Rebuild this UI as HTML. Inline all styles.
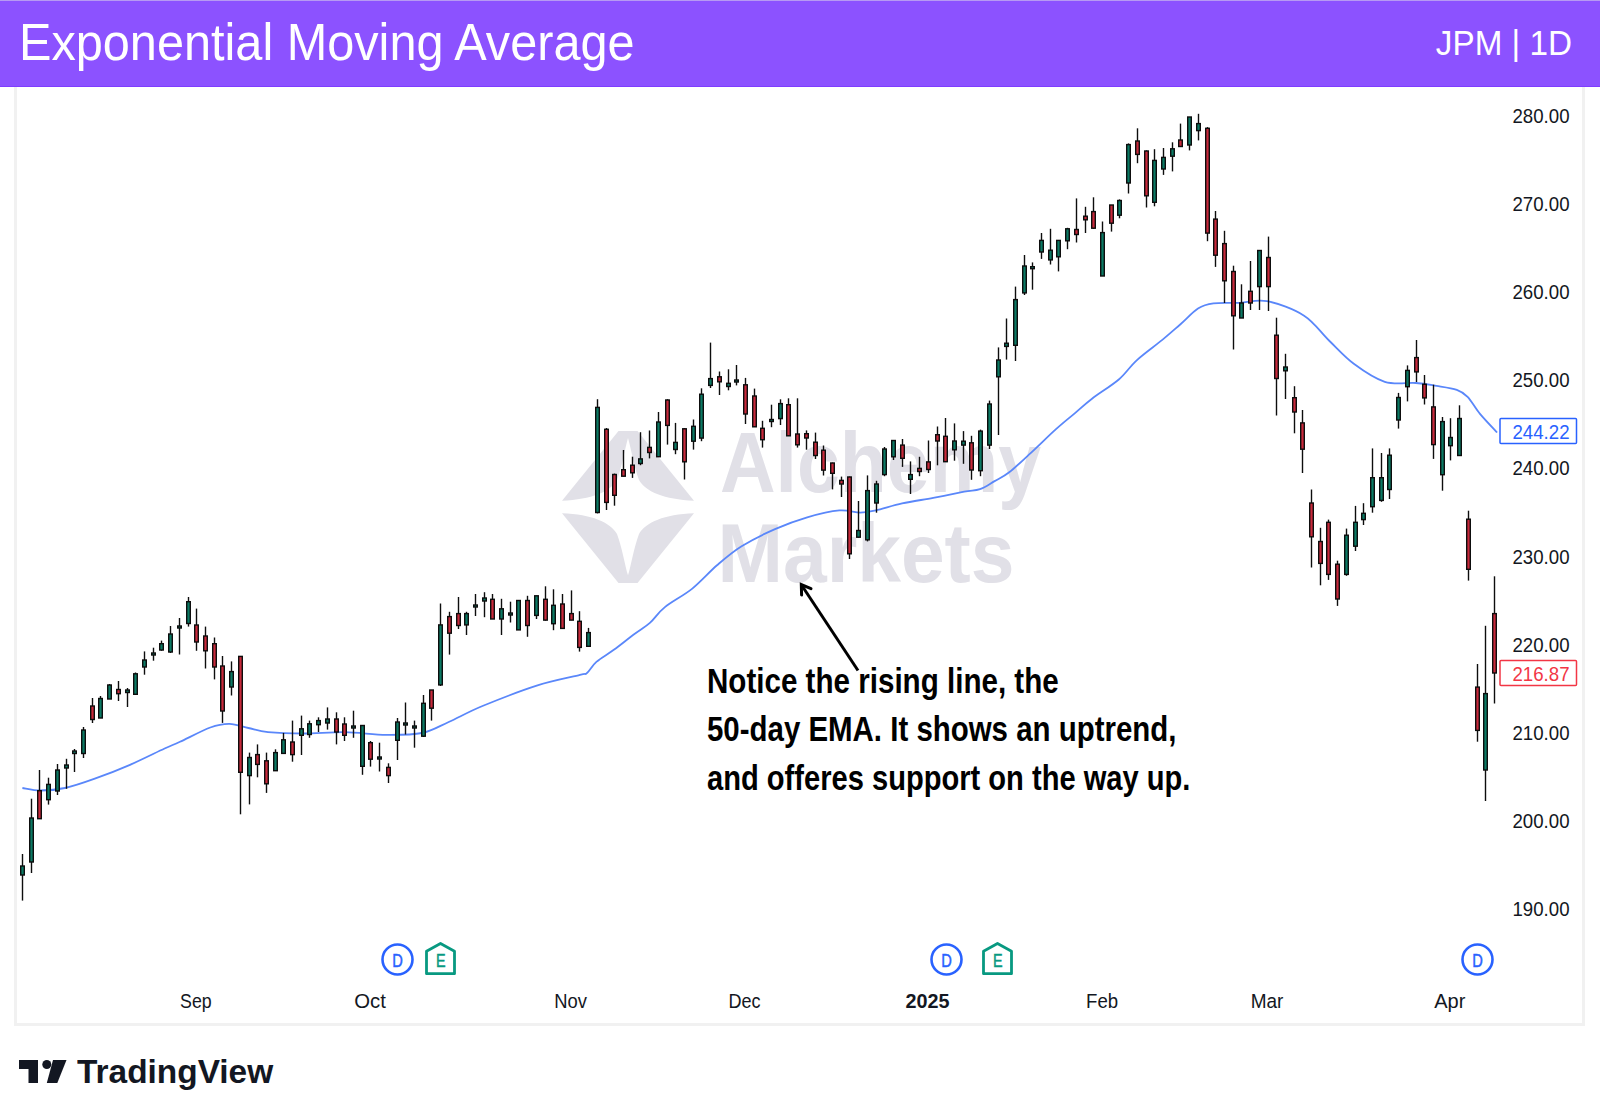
<!DOCTYPE html>
<html><head><meta charset="utf-8">
<style>
html,body{margin:0;padding:0;background:#fff;}
body{width:1600px;height:1095px;overflow:hidden;position:relative;font-family:"Liberation Sans",sans-serif;}
#hdr{position:absolute;left:0;top:0;width:1600px;height:87px;background:#8c52ff;}
#hdr .top{position:absolute;left:0;top:0;width:1600px;height:1px;background:#b79af3;}
#hdr .bot{position:absolute;left:0;top:86px;width:1600px;height:1px;background:#7e3dff;}
#title{position:absolute;left:19.2px;top:11.5px;color:#fff;font-size:51.8px;line-height:60px;white-space:nowrap;transform:scaleX(0.939);transform-origin:0 0;}
#sym{position:absolute;right:28px;top:20.5px;color:#fff;font-size:34.7px;line-height:44px;white-space:nowrap;transform:scaleX(0.959);transform-origin:100% 0;}
.nl{position:absolute;left:706.5px;color:#000;font-weight:bold;font-size:35.3px;line-height:40px;white-space:nowrap;transform-origin:0 0;}
#tv{position:absolute;left:77px;top:1051.5px;color:#131722;font-weight:bold;font-size:32.5px;line-height:40px;white-space:nowrap;transform:scaleX(1.028);transform-origin:0 0;}
svg{position:absolute;left:0;top:0;}
</style></head><body>
<svg width="1600" height="1095" viewBox="0 0 1600 1095">
<rect x="14" y="87" width="3" height="939" fill="#f1f1f1"/>
<rect x="1582" y="87" width="3" height="939" fill="#f1f1f1"/>
<rect x="14" y="1023" width="1571" height="3" fill="#f1f1f1"/>
<g fill="#e1e0e7">
<path d="M618.5,431 L637.5,431 L694,500.7 C664,499.4 646,492 639,480 C634,467 631,448 628,438 C625,448 622,467 617,480 C610,492 592,499.4 562,500.7 Z"/>
<path d="M562,513.2 C592,514.5 610,522 617,534 C622,547 625,566 628,575.3 C631,566 634,547 639,534 C646,522 664,514.5 694,513.2 L637.5,583 L618.5,583 Z"/>
</g>
<g fill="#e1e0e7" font-family="Liberation Sans, sans-serif" font-weight="bold">
<text x="720" y="492.3" font-size="84.5" textLength="321" lengthAdjust="spacingAndGlyphs">Alchemy</text>
<text x="717.5" y="582" font-size="83.5" textLength="297" lengthAdjust="spacingAndGlyphs">Markets</text>
</g>
<path d="M22.4,788.0 C25.4,788.4 33.3,790.5 40.4,790.5 C47.5,790.5 55.9,790.0 65.0,788.0 C74.1,786.0 84.0,782.6 94.8,778.7 C105.6,774.8 118.4,769.8 130.0,764.8 C141.6,759.8 156.3,752.3 164.6,748.5 C172.9,744.7 172.4,745.3 180.0,741.8 C187.6,738.3 202.1,730.5 210.3,727.5 C218.6,724.5 223.2,723.8 229.5,723.9 C235.8,724.0 242.0,726.6 248.4,728.0 C254.8,729.4 258.8,731.2 268.0,732.1 C277.2,733.0 291.0,733.5 303.8,733.5 C316.6,733.5 331.2,731.9 345.0,732.1 C358.8,732.3 373.5,734.8 386.3,734.9 C399.1,735.0 411.6,735.1 422.0,733.0 C432.4,730.9 438.6,726.5 448.7,722.0 C458.8,717.5 467.7,712.1 482.5,706.0 C497.3,699.9 521.2,690.6 537.5,685.4 C553.8,680.2 571.8,677.0 580.0,674.9 C588.2,672.8 584.3,675.2 587.0,673.0 C589.7,670.8 591.9,665.8 596.4,661.9 C600.9,658.0 607.8,654.3 614.2,649.6 C620.6,644.9 628.8,638.2 634.8,633.8 C640.8,629.3 644.9,627.3 649.9,622.9 C654.9,618.5 657.8,612.8 664.9,607.1 C672.0,601.4 683.6,595.6 692.3,588.6 C701.0,581.6 708.8,572.4 717.0,565.3 C725.2,558.2 731.9,552.2 741.6,546.2 C751.3,540.2 764.1,533.9 775.0,529.1 C785.9,524.3 796.5,520.4 807.2,517.3 C817.9,514.2 830.6,511.2 839.4,510.4 C848.2,509.6 854.2,512.7 860.2,512.7 C866.2,512.7 868.7,511.9 875.7,510.3 C882.7,508.8 892.5,505.5 902.1,503.4 C911.7,501.3 922.9,499.8 933.2,497.9 C943.6,495.9 956.4,493.2 964.2,491.7 C972.0,490.2 974.9,490.9 980.0,489.1 C985.1,487.3 989.7,483.9 994.6,481.1 C999.5,478.3 1003.1,477.1 1009.2,472.3 C1015.3,467.6 1023.4,459.8 1031.2,452.6 C1039.0,445.4 1048.7,435.8 1056.0,429.2 C1063.3,422.6 1069.0,418.2 1075.0,413.1 C1081.0,408.0 1084.7,404.3 1092.0,398.7 C1099.3,393.1 1111.3,385.9 1118.8,379.5 C1126.2,373.1 1129.5,366.9 1136.7,360.3 C1144.0,353.7 1155.0,345.9 1162.3,339.9 C1169.5,333.9 1174.2,329.7 1180.2,324.5 C1186.2,319.3 1192.5,312.0 1198.0,308.5 C1203.5,305.0 1206.4,304.3 1213.4,303.4 C1220.4,302.4 1231.1,303.2 1240.0,302.8 C1248.9,302.4 1256.2,299.0 1266.9,301.1 C1277.6,303.2 1293.8,309.1 1304.1,315.7 C1314.4,322.3 1320.7,332.5 1329.0,340.5 C1337.3,348.5 1344.5,356.9 1353.8,363.8 C1363.1,370.7 1374.4,378.6 1384.8,381.8 C1395.2,385.0 1407.3,382.3 1415.9,383.0 C1424.5,383.7 1429.8,384.8 1436.6,385.9 C1443.4,387.0 1451.6,388.0 1456.8,389.8 C1462.0,391.6 1463.7,392.8 1467.6,396.8 C1471.5,400.8 1475.1,407.9 1480.0,413.9 C1484.9,419.8 1494.2,429.4 1497.1,432.5" fill="none" stroke="#5a87fa" stroke-width="1.8" stroke-linejoin="round"/>
<g stroke="#0d0d0d" stroke-width="1.4">
<line x1="22.5" y1="854.0" x2="22.5" y2="900.6"/>
<rect x="20.7" y="866.0" width="3.6" height="9.0" fill="#0b7a64"/>
<line x1="31.5" y1="798.7" x2="31.5" y2="873.0"/>
<rect x="29.7" y="818.0" width="3.6" height="44.0" fill="#0b7a64"/>
<line x1="39.5" y1="770.0" x2="39.5" y2="818.7"/>
<rect x="37.7" y="790.7" width="3.6" height="28.0" fill="#c9293b"/>
<line x1="48.5" y1="777.7" x2="48.5" y2="804.6"/>
<rect x="46.7" y="784.4" width="3.6" height="15.3" fill="#0b7a64"/>
<line x1="57.5" y1="764.0" x2="57.5" y2="795.0"/>
<rect x="55.7" y="770.0" width="3.6" height="21.0" fill="#0b7a64"/>
<line x1="66.5" y1="758.8" x2="66.5" y2="788.8"/>
<rect x="64.7" y="765.0" width="3.6" height="3.0" fill="#0b7a64"/>
<line x1="74.5" y1="749.0" x2="74.5" y2="772.0"/>
<rect x="72.7" y="751.0" width="3.6" height="2.5" fill="#0b7a64"/>
<line x1="83.5" y1="727.0" x2="83.5" y2="758.0"/>
<rect x="81.7" y="730.0" width="3.6" height="23.5" fill="#0b7a64"/>
<line x1="92.5" y1="698.0" x2="92.5" y2="723.0"/>
<rect x="90.7" y="706.0" width="3.6" height="13.5" fill="#c9293b"/>
<line x1="100.5" y1="696.0" x2="100.5" y2="718.0"/>
<rect x="98.7" y="698.5" width="3.6" height="19.5" fill="#0b7a64"/>
<line x1="109.5" y1="684.0" x2="109.5" y2="699.0"/>
<rect x="107.7" y="685.0" width="3.6" height="14.0" fill="#0b7a64"/>
<line x1="118.5" y1="681.0" x2="118.5" y2="701.0"/>
<rect x="116.7" y="689.5" width="3.6" height="4.2" fill="#c9293b"/>
<line x1="127.5" y1="688.0" x2="127.5" y2="707.0"/>
<rect x="125.7" y="690.0" width="3.6" height="2.5" fill="#0b7a64"/>
<line x1="135.5" y1="672.5" x2="135.5" y2="694.3"/>
<rect x="133.7" y="673.8" width="3.6" height="20.5" fill="#0b7a64"/>
<line x1="144.5" y1="651.4" x2="144.5" y2="674.7"/>
<rect x="142.7" y="660.0" width="3.6" height="7.0" fill="#0b7a64"/>
<line x1="153.5" y1="647.7" x2="153.5" y2="660.7"/>
<rect x="151.7" y="653.0" width="3.6" height="2.0" fill="#0b7a64"/>
<line x1="161.5" y1="640.6" x2="161.5" y2="650.8"/>
<rect x="159.7" y="643.7" width="3.6" height="6.3" fill="#0b7a64"/>
<line x1="170.5" y1="626.0" x2="170.5" y2="653.0"/>
<rect x="168.7" y="634.0" width="3.6" height="18.0" fill="#0b7a64"/>
<line x1="179.5" y1="618.0" x2="179.5" y2="654.5"/>
<rect x="177.7" y="626.0" width="3.6" height="2.0" fill="#0b7a64"/>
<line x1="188.5" y1="597.0" x2="188.5" y2="626.6"/>
<rect x="186.7" y="601.7" width="3.6" height="21.8" fill="#0b7a64"/>
<line x1="196.5" y1="608.6" x2="196.5" y2="650.8"/>
<rect x="194.7" y="625.0" width="3.6" height="17.0" fill="#c9293b"/>
<line x1="205.5" y1="626.6" x2="205.5" y2="668.5"/>
<rect x="203.7" y="636.0" width="3.6" height="14.8" fill="#c9293b"/>
<line x1="214.5" y1="637.5" x2="214.5" y2="679.4"/>
<rect x="212.7" y="643.7" width="3.6" height="23.3" fill="#c9293b"/>
<line x1="222.5" y1="656.0" x2="222.5" y2="722.9"/>
<rect x="220.7" y="666.0" width="3.6" height="45.0" fill="#c9293b"/>
<line x1="231.5" y1="661.4" x2="231.5" y2="695.5"/>
<rect x="229.7" y="671.6" width="3.6" height="15.4" fill="#0b7a64"/>
<line x1="240.5" y1="656.4" x2="240.5" y2="814.3"/>
<rect x="238.7" y="656.4" width="3.6" height="115.9" fill="#c9293b"/>
<line x1="249.5" y1="752.6" x2="249.5" y2="804.4"/>
<rect x="247.7" y="757.5" width="3.6" height="18.1" fill="#0b7a64"/>
<line x1="257.5" y1="744.4" x2="257.5" y2="777.3"/>
<rect x="255.7" y="754.6" width="3.6" height="9.8" fill="#c9293b"/>
<line x1="266.5" y1="752.6" x2="266.5" y2="792.9"/>
<rect x="264.7" y="760.8" width="3.6" height="23.0" fill="#c9293b"/>
<line x1="275.5" y1="749.3" x2="275.5" y2="770.7"/>
<rect x="273.7" y="752.6" width="3.6" height="18.1" fill="#0b7a64"/>
<line x1="283.5" y1="732.9" x2="283.5" y2="753.4"/>
<rect x="281.7" y="739.8" width="3.6" height="13.6" fill="#0b7a64"/>
<line x1="292.5" y1="720.6" x2="292.5" y2="761.7"/>
<rect x="290.7" y="742.0" width="3.6" height="12.6" fill="#c9293b"/>
<line x1="301.5" y1="715.6" x2="301.5" y2="755.0"/>
<rect x="299.7" y="728.8" width="3.6" height="6.5" fill="#0b7a64"/>
<line x1="309.5" y1="720.6" x2="309.5" y2="737.8"/>
<rect x="307.7" y="723.8" width="3.6" height="10.7" fill="#0b7a64"/>
<line x1="318.5" y1="717.3" x2="318.5" y2="732.0"/>
<rect x="316.7" y="720.6" width="3.6" height="4.1" fill="#0b7a64"/>
<line x1="327.5" y1="707.4" x2="327.5" y2="729.6"/>
<rect x="325.7" y="719.0" width="3.6" height="4.0" fill="#0b7a64"/>
<line x1="336.5" y1="712.3" x2="336.5" y2="744.4"/>
<rect x="334.7" y="719.0" width="3.6" height="13.0" fill="#c9293b"/>
<line x1="344.5" y1="717.3" x2="344.5" y2="741.0"/>
<rect x="342.7" y="724.0" width="3.6" height="11.3" fill="#c9293b"/>
<line x1="353.5" y1="710.7" x2="353.5" y2="737.8"/>
<rect x="351.7" y="726.0" width="3.6" height="2.0" fill="#0b7a64"/>
<line x1="362.5" y1="725.0" x2="362.5" y2="774.8"/>
<rect x="360.7" y="725.5" width="3.6" height="40.8" fill="#0b7a64"/>
<line x1="370.5" y1="741.0" x2="370.5" y2="766.6"/>
<rect x="368.7" y="742.7" width="3.6" height="16.5" fill="#c9293b"/>
<line x1="379.5" y1="742.7" x2="379.5" y2="771.5"/>
<rect x="377.7" y="757.0" width="3.6" height="2.0" fill="#0b7a64"/>
<line x1="388.5" y1="763.3" x2="388.5" y2="783.0"/>
<rect x="386.7" y="767.4" width="3.6" height="8.2" fill="#c9293b"/>
<line x1="397.5" y1="718.0" x2="397.5" y2="760.0"/>
<rect x="395.7" y="722.0" width="3.6" height="18.3" fill="#0b7a64"/>
<line x1="405.5" y1="702.5" x2="405.5" y2="734.5"/>
<rect x="403.7" y="723.0" width="3.6" height="2.0" fill="#0b7a64"/>
<line x1="414.5" y1="720.6" x2="414.5" y2="747.7"/>
<rect x="412.7" y="726.0" width="3.6" height="2.0" fill="#0b7a64"/>
<line x1="423.5" y1="695.0" x2="423.5" y2="737.0"/>
<rect x="421.7" y="703.3" width="3.6" height="32.9" fill="#0b7a64"/>
<line x1="431.5" y1="690.0" x2="431.5" y2="720.6"/>
<rect x="429.7" y="690.0" width="3.6" height="18.2" fill="#c9293b"/>
<line x1="440.5" y1="603.5" x2="440.5" y2="686.0"/>
<rect x="438.7" y="624.9" width="3.6" height="60.0" fill="#0b7a64"/>
<line x1="449.5" y1="611.8" x2="449.5" y2="654.6"/>
<rect x="447.7" y="616.6" width="3.6" height="16.6" fill="#c9293b"/>
<line x1="458.5" y1="597.0" x2="458.5" y2="629.0"/>
<rect x="456.7" y="613.6" width="3.6" height="11.9" fill="#c9293b"/>
<line x1="466.5" y1="611.8" x2="466.5" y2="635.0"/>
<rect x="464.7" y="613.6" width="3.6" height="11.3" fill="#0b7a64"/>
<line x1="475.5" y1="594.0" x2="475.5" y2="616.0"/>
<rect x="473.7" y="605.0" width="3.6" height="2.0" fill="#0b7a64"/>
<line x1="484.5" y1="592.2" x2="484.5" y2="617.2"/>
<rect x="482.7" y="598.0" width="3.6" height="3.0" fill="#0b7a64"/>
<line x1="492.5" y1="594.0" x2="492.5" y2="619.0"/>
<rect x="490.7" y="599.3" width="3.6" height="19.7" fill="#c9293b"/>
<line x1="501.5" y1="598.8" x2="501.5" y2="635.0"/>
<rect x="499.7" y="608.8" width="3.6" height="10.2" fill="#0b7a64"/>
<line x1="510.5" y1="601.7" x2="510.5" y2="622.5"/>
<rect x="508.7" y="613.0" width="3.6" height="2.0" fill="#0b7a64"/>
<line x1="518.5" y1="600.5" x2="518.5" y2="629.9"/>
<rect x="516.7" y="600.5" width="3.6" height="29.4" fill="#0b7a64"/>
<line x1="527.5" y1="595.8" x2="527.5" y2="636.8"/>
<rect x="525.7" y="600.5" width="3.6" height="25.0" fill="#c9293b"/>
<line x1="536.5" y1="595.8" x2="536.5" y2="619.0"/>
<rect x="534.7" y="595.8" width="3.6" height="19.6" fill="#0b7a64"/>
<line x1="545.5" y1="586.3" x2="545.5" y2="620.7"/>
<rect x="543.7" y="599.3" width="3.6" height="20.8" fill="#c9293b"/>
<line x1="553.5" y1="589.3" x2="553.5" y2="630.2"/>
<rect x="551.7" y="605.3" width="3.6" height="18.4" fill="#0b7a64"/>
<line x1="562.5" y1="594.0" x2="562.5" y2="628.4"/>
<rect x="560.7" y="604.0" width="3.6" height="24.4" fill="#c9293b"/>
<line x1="571.5" y1="590.4" x2="571.5" y2="620.1"/>
<rect x="569.7" y="613.6" width="3.6" height="6.5" fill="#c9293b"/>
<line x1="579.5" y1="611.2" x2="579.5" y2="651.6"/>
<rect x="577.7" y="621.3" width="3.6" height="26.1" fill="#c9293b"/>
<line x1="588.5" y1="627.9" x2="588.5" y2="646.3"/>
<rect x="586.7" y="632.6" width="3.6" height="13.7" fill="#0b7a64"/>
<line x1="597.5" y1="399.2" x2="597.5" y2="513.4"/>
<rect x="595.7" y="407.4" width="3.6" height="105.1" fill="#0b7a64"/>
<line x1="606.5" y1="428.0" x2="606.5" y2="510.0"/>
<rect x="604.7" y="429.3" width="3.6" height="73.1" fill="#c9293b"/>
<line x1="614.5" y1="473.6" x2="614.5" y2="505.7"/>
<rect x="612.7" y="474.5" width="3.6" height="20.8" fill="#c9293b"/>
<line x1="623.5" y1="450.0" x2="623.5" y2="476.2"/>
<rect x="621.7" y="469.7" width="3.6" height="6.5" fill="#c9293b"/>
<line x1="632.5" y1="456.7" x2="632.5" y2="477.9"/>
<rect x="630.7" y="465.2" width="3.6" height="7.6" fill="#c9293b"/>
<line x1="640.5" y1="432.2" x2="640.5" y2="465.2"/>
<rect x="638.7" y="458.9" width="3.6" height="4.6" fill="#0b7a64"/>
<line x1="649.5" y1="430.5" x2="649.5" y2="458.4"/>
<rect x="647.7" y="447.4" width="3.6" height="5.1" fill="#c9293b"/>
<line x1="658.5" y1="412.0" x2="658.5" y2="456.7"/>
<rect x="656.7" y="422.0" width="3.6" height="34.7" fill="#0b7a64"/>
<line x1="667.5" y1="399.2" x2="667.5" y2="444.6"/>
<rect x="665.7" y="400.0" width="3.6" height="25.4" fill="#c9293b"/>
<line x1="675.5" y1="422.9" x2="675.5" y2="454.2"/>
<rect x="673.7" y="442.4" width="3.6" height="7.1" fill="#0b7a64"/>
<line x1="684.5" y1="428.0" x2="684.5" y2="479.5"/>
<rect x="682.7" y="428.8" width="3.6" height="33.0" fill="#c9293b"/>
<line x1="693.5" y1="419.5" x2="693.5" y2="449.6"/>
<rect x="691.7" y="426.3" width="3.6" height="14.9" fill="#0b7a64"/>
<line x1="701.5" y1="388.3" x2="701.5" y2="441.2"/>
<rect x="699.7" y="394.2" width="3.6" height="43.9" fill="#0b7a64"/>
<line x1="710.5" y1="342.6" x2="710.5" y2="388.0"/>
<rect x="708.7" y="378.6" width="3.6" height="6.8" fill="#0b7a64"/>
<line x1="719.5" y1="371.5" x2="719.5" y2="395.0"/>
<rect x="717.7" y="376.8" width="3.6" height="5.0" fill="#c9293b"/>
<line x1="728.5" y1="369.3" x2="728.5" y2="390.3"/>
<rect x="726.7" y="383.3" width="3.6" height="3.2" fill="#0b7a64"/>
<line x1="736.5" y1="365.0" x2="736.5" y2="385.4"/>
<rect x="734.7" y="380.0" width="3.6" height="2.0" fill="#0b7a64"/>
<line x1="745.5" y1="377.9" x2="745.5" y2="424.0"/>
<rect x="743.7" y="384.8" width="3.6" height="29.2" fill="#c9293b"/>
<line x1="754.5" y1="388.6" x2="754.5" y2="426.8"/>
<rect x="752.7" y="396.0" width="3.6" height="30.8" fill="#c9293b"/>
<line x1="762.5" y1="420.8" x2="762.5" y2="447.6"/>
<rect x="760.7" y="428.3" width="3.6" height="11.4" fill="#c9293b"/>
<line x1="771.5" y1="404.7" x2="771.5" y2="427.2"/>
<rect x="769.7" y="419.5" width="3.6" height="2.0" fill="#0b7a64"/>
<line x1="780.5" y1="399.3" x2="780.5" y2="425.0"/>
<rect x="778.7" y="403.6" width="3.6" height="15.0" fill="#0b7a64"/>
<line x1="788.5" y1="398.3" x2="788.5" y2="435.8"/>
<rect x="786.7" y="404.7" width="3.6" height="31.1" fill="#c9293b"/>
<line x1="797.5" y1="398.3" x2="797.5" y2="447.6"/>
<rect x="795.7" y="434.0" width="3.6" height="10.8" fill="#c9293b"/>
<line x1="806.5" y1="430.4" x2="806.5" y2="449.7"/>
<rect x="804.7" y="433.7" width="3.6" height="4.3" fill="#c9293b"/>
<line x1="815.5" y1="432.6" x2="815.5" y2="459.0"/>
<rect x="813.7" y="442.2" width="3.6" height="13.3" fill="#c9293b"/>
<line x1="823.5" y1="445.5" x2="823.5" y2="475.5"/>
<rect x="821.7" y="450.2" width="3.6" height="19.9" fill="#c9293b"/>
<line x1="832.5" y1="462.6" x2="832.5" y2="489.4"/>
<rect x="830.7" y="463.0" width="3.6" height="10.3" fill="#c9293b"/>
<line x1="841.5" y1="476.6" x2="841.5" y2="497.0"/>
<rect x="839.7" y="480.4" width="3.6" height="3.6" fill="#c9293b"/>
<line x1="849.5" y1="476.6" x2="849.5" y2="559.0"/>
<rect x="847.7" y="477.0" width="3.6" height="76.8" fill="#c9293b"/>
<line x1="858.5" y1="501.0" x2="858.5" y2="537.5"/>
<rect x="856.7" y="530.5" width="3.6" height="6.7" fill="#0b7a64"/>
<line x1="867.5" y1="475.4" x2="867.5" y2="541.4"/>
<rect x="865.7" y="490.6" width="3.6" height="49.2" fill="#0b7a64"/>
<line x1="876.5" y1="480.8" x2="876.5" y2="512.7"/>
<rect x="874.7" y="484.0" width="3.6" height="19.0" fill="#0b7a64"/>
<line x1="884.5" y1="447.0" x2="884.5" y2="476.2"/>
<rect x="882.7" y="449.0" width="3.6" height="25.6" fill="#0b7a64"/>
<line x1="893.5" y1="440.5" x2="893.5" y2="460.0"/>
<rect x="891.7" y="440.5" width="3.6" height="16.3" fill="#0b7a64"/>
<line x1="902.5" y1="439.0" x2="902.5" y2="466.9"/>
<rect x="900.7" y="445.1" width="3.6" height="13.2" fill="#c9293b"/>
<line x1="910.5" y1="461.4" x2="910.5" y2="494.0"/>
<rect x="908.7" y="474.6" width="3.6" height="4.7" fill="#0b7a64"/>
<line x1="919.5" y1="456.8" x2="919.5" y2="476.2"/>
<rect x="917.7" y="468.4" width="3.6" height="3.1" fill="#c9293b"/>
<line x1="928.5" y1="440.5" x2="928.5" y2="473.0"/>
<rect x="926.7" y="461.9" width="3.6" height="7.6" fill="#c9293b"/>
<line x1="937.5" y1="426.5" x2="937.5" y2="465.3"/>
<rect x="935.7" y="434.7" width="3.6" height="6.3" fill="#c9293b"/>
<line x1="945.5" y1="418.0" x2="945.5" y2="461.7"/>
<rect x="943.7" y="436.3" width="3.6" height="25.4" fill="#c9293b"/>
<line x1="954.5" y1="423.4" x2="954.5" y2="460.7"/>
<rect x="952.7" y="441.0" width="3.6" height="8.8" fill="#0b7a64"/>
<line x1="963.5" y1="431.1" x2="963.5" y2="463.8"/>
<rect x="961.7" y="441.2" width="3.6" height="3.9" fill="#0b7a64"/>
<line x1="971.5" y1="435.8" x2="971.5" y2="479.8"/>
<rect x="969.7" y="442.8" width="3.6" height="27.2" fill="#c9293b"/>
<line x1="980.5" y1="429.6" x2="980.5" y2="476.2"/>
<rect x="978.7" y="431.1" width="3.6" height="39.6" fill="#0b7a64"/>
<line x1="989.5" y1="400.6" x2="989.5" y2="449.0"/>
<rect x="987.7" y="404.0" width="3.6" height="41.1" fill="#0b7a64"/>
<line x1="998.5" y1="347.4" x2="998.5" y2="435.0"/>
<rect x="996.7" y="360.0" width="3.6" height="16.8" fill="#0b7a64"/>
<line x1="1006.5" y1="318.5" x2="1006.5" y2="359.6"/>
<rect x="1004.7" y="343.2" width="3.6" height="3.2" fill="#0b7a64"/>
<line x1="1015.5" y1="286.6" x2="1015.5" y2="361.0"/>
<rect x="1013.7" y="299.6" width="3.6" height="45.7" fill="#0b7a64"/>
<line x1="1024.5" y1="255.0" x2="1024.5" y2="295.0"/>
<rect x="1022.7" y="266.0" width="3.6" height="26.9" fill="#0b7a64"/>
<line x1="1032.5" y1="262.4" x2="1032.5" y2="289.7"/>
<rect x="1030.7" y="266.7" width="3.6" height="2.0" fill="#0b7a64"/>
<line x1="1041.5" y1="233.0" x2="1041.5" y2="258.9"/>
<rect x="1039.7" y="240.4" width="3.6" height="11.6" fill="#0b7a64"/>
<line x1="1050.5" y1="228.8" x2="1050.5" y2="264.5"/>
<rect x="1048.7" y="250.2" width="3.6" height="9.7" fill="#0b7a64"/>
<line x1="1058.5" y1="240.4" x2="1058.5" y2="271.4"/>
<rect x="1056.7" y="240.4" width="3.6" height="16.4" fill="#0b7a64"/>
<line x1="1067.5" y1="227.8" x2="1067.5" y2="249.2"/>
<rect x="1065.7" y="228.8" width="3.6" height="12.0" fill="#0b7a64"/>
<line x1="1076.5" y1="198.4" x2="1076.5" y2="242.5"/>
<rect x="1074.7" y="229.5" width="3.6" height="5.0" fill="#c9293b"/>
<line x1="1085.5" y1="206.8" x2="1085.5" y2="233.0"/>
<rect x="1083.7" y="216.2" width="3.6" height="3.6" fill="#c9293b"/>
<line x1="1093.5" y1="197.3" x2="1093.5" y2="228.8"/>
<rect x="1091.7" y="211.6" width="3.6" height="16.6" fill="#c9293b"/>
<line x1="1102.5" y1="221.5" x2="1102.5" y2="276.0"/>
<rect x="1100.7" y="232.6" width="3.6" height="43.4" fill="#0b7a64"/>
<line x1="1111.5" y1="205.0" x2="1111.5" y2="231.6"/>
<rect x="1109.7" y="205.0" width="3.6" height="18.2" fill="#c9293b"/>
<line x1="1119.5" y1="199.4" x2="1119.5" y2="218.3"/>
<rect x="1117.7" y="200.5" width="3.6" height="14.7" fill="#0b7a64"/>
<line x1="1128.5" y1="143.4" x2="1128.5" y2="193.5"/>
<rect x="1126.7" y="144.6" width="3.6" height="38.4" fill="#0b7a64"/>
<line x1="1137.5" y1="128.3" x2="1137.5" y2="163.2"/>
<rect x="1135.7" y="141.0" width="3.6" height="13.4" fill="#c9293b"/>
<line x1="1146.5" y1="150.4" x2="1146.5" y2="207.5"/>
<rect x="1144.7" y="151.0" width="3.6" height="44.8" fill="#c9293b"/>
<line x1="1154.5" y1="149.2" x2="1154.5" y2="206.3"/>
<rect x="1152.7" y="160.4" width="3.6" height="41.9" fill="#0b7a64"/>
<line x1="1163.5" y1="148.0" x2="1163.5" y2="174.9"/>
<rect x="1161.7" y="157.4" width="3.6" height="11.6" fill="#0b7a64"/>
<line x1="1172.5" y1="142.3" x2="1172.5" y2="171.4"/>
<rect x="1170.7" y="148.8" width="3.6" height="7.4" fill="#0b7a64"/>
<line x1="1180.5" y1="123.6" x2="1180.5" y2="146.9"/>
<rect x="1178.7" y="140.0" width="3.6" height="6.5" fill="#c9293b"/>
<line x1="1189.5" y1="117.0" x2="1189.5" y2="150.4"/>
<rect x="1187.7" y="117.0" width="3.6" height="28.0" fill="#0b7a64"/>
<line x1="1198.5" y1="113.8" x2="1198.5" y2="140.4"/>
<rect x="1196.7" y="123.6" width="3.6" height="7.0" fill="#0b7a64"/>
<line x1="1207.5" y1="127.1" x2="1207.5" y2="241.2"/>
<rect x="1205.7" y="128.3" width="3.6" height="104.8" fill="#c9293b"/>
<line x1="1215.5" y1="211.0" x2="1215.5" y2="266.9"/>
<rect x="1213.7" y="219.1" width="3.6" height="36.1" fill="#c9293b"/>
<line x1="1224.5" y1="230.8" x2="1224.5" y2="303.0"/>
<rect x="1222.7" y="243.6" width="3.6" height="37.2" fill="#c9293b"/>
<line x1="1233.5" y1="265.7" x2="1233.5" y2="349.5"/>
<rect x="1231.7" y="271.5" width="3.6" height="44.3" fill="#c9293b"/>
<line x1="1241.5" y1="284.3" x2="1241.5" y2="318.0"/>
<rect x="1239.7" y="303.0" width="3.6" height="15.0" fill="#0b7a64"/>
<line x1="1250.5" y1="261.0" x2="1250.5" y2="310.0"/>
<rect x="1248.7" y="291.3" width="3.6" height="11.7" fill="#c9293b"/>
<line x1="1259.5" y1="250.5" x2="1259.5" y2="310.0"/>
<rect x="1257.7" y="250.5" width="3.6" height="36.1" fill="#0b7a64"/>
<line x1="1268.5" y1="236.6" x2="1268.5" y2="311.0"/>
<rect x="1266.7" y="257.5" width="3.6" height="29.1" fill="#c9293b"/>
<line x1="1276.5" y1="317.7" x2="1276.5" y2="415.5"/>
<rect x="1274.7" y="335.2" width="3.6" height="43.3" fill="#c9293b"/>
<line x1="1285.5" y1="353.8" x2="1285.5" y2="399.0"/>
<rect x="1283.7" y="367.0" width="3.6" height="3.8" fill="#0b7a64"/>
<line x1="1294.5" y1="386.2" x2="1294.5" y2="433.3"/>
<rect x="1292.7" y="397.7" width="3.6" height="14.3" fill="#c9293b"/>
<line x1="1302.5" y1="410.0" x2="1302.5" y2="473.0"/>
<rect x="1300.7" y="422.9" width="3.6" height="26.3" fill="#c9293b"/>
<line x1="1311.5" y1="489.5" x2="1311.5" y2="567.5"/>
<rect x="1309.7" y="503.0" width="3.6" height="33.8" fill="#c9293b"/>
<line x1="1320.5" y1="527.8" x2="1320.5" y2="585.3"/>
<rect x="1318.7" y="541.5" width="3.6" height="21.9" fill="#c9293b"/>
<line x1="1328.5" y1="519.6" x2="1328.5" y2="579.9"/>
<rect x="1326.7" y="522.3" width="3.6" height="52.1" fill="#c9293b"/>
<line x1="1337.5" y1="560.7" x2="1337.5" y2="605.9"/>
<rect x="1335.7" y="564.2" width="3.6" height="34.8" fill="#c9293b"/>
<line x1="1346.5" y1="528.6" x2="1346.5" y2="575.8"/>
<rect x="1344.7" y="535.2" width="3.6" height="39.2" fill="#0b7a64"/>
<line x1="1355.5" y1="505.9" x2="1355.5" y2="551.0"/>
<rect x="1353.7" y="522.3" width="3.6" height="23.9" fill="#0b7a64"/>
<line x1="1363.5" y1="503.2" x2="1363.5" y2="525.0"/>
<rect x="1361.7" y="513.3" width="3.6" height="6.3" fill="#0b7a64"/>
<line x1="1372.5" y1="448.4" x2="1372.5" y2="512.7"/>
<rect x="1370.7" y="477.7" width="3.6" height="29.0" fill="#0b7a64"/>
<line x1="1381.5" y1="453.0" x2="1381.5" y2="501.8"/>
<rect x="1379.7" y="477.7" width="3.6" height="22.7" fill="#0b7a64"/>
<line x1="1389.5" y1="448.4" x2="1389.5" y2="499.0"/>
<rect x="1387.7" y="455.2" width="3.6" height="34.3" fill="#0b7a64"/>
<line x1="1398.5" y1="392.9" x2="1398.5" y2="428.6"/>
<rect x="1396.7" y="397.5" width="3.6" height="22.5" fill="#0b7a64"/>
<line x1="1407.5" y1="365.4" x2="1407.5" y2="401.4"/>
<rect x="1405.7" y="370.4" width="3.6" height="16.3" fill="#0b7a64"/>
<line x1="1416.5" y1="340.0" x2="1416.5" y2="382.0"/>
<rect x="1414.7" y="357.6" width="3.6" height="14.3" fill="#c9293b"/>
<line x1="1424.5" y1="375.0" x2="1424.5" y2="404.5"/>
<rect x="1422.7" y="384.3" width="3.6" height="13.6" fill="#c9293b"/>
<line x1="1433.5" y1="384.7" x2="1433.5" y2="458.9"/>
<rect x="1431.7" y="406.9" width="3.6" height="37.7" fill="#c9293b"/>
<line x1="1442.5" y1="417.0" x2="1442.5" y2="490.7"/>
<rect x="1440.7" y="421.6" width="3.6" height="53.1" fill="#0b7a64"/>
<line x1="1450.5" y1="418.2" x2="1450.5" y2="460.4"/>
<rect x="1448.7" y="437.5" width="3.6" height="8.2" fill="#0b7a64"/>
<line x1="1459.5" y1="405.3" x2="1459.5" y2="455.5"/>
<rect x="1457.7" y="418.5" width="3.6" height="37.0" fill="#0b7a64"/>
<line x1="1468.5" y1="510.7" x2="1468.5" y2="580.6"/>
<rect x="1466.7" y="519.2" width="3.6" height="50.1" fill="#c9293b"/>
<line x1="1477.5" y1="664.0" x2="1477.5" y2="741.7"/>
<rect x="1475.7" y="687.1" width="3.6" height="43.3" fill="#c9293b"/>
<line x1="1485.5" y1="625.8" x2="1485.5" y2="801.0"/>
<rect x="1483.7" y="693.6" width="3.6" height="76.4" fill="#0b7a64"/>
<line x1="1494.5" y1="576.3" x2="1494.5" y2="703.5"/>
<rect x="1492.7" y="613.6" width="3.6" height="59.4" fill="#c9293b"/>
</g>
<g font-family="Liberation Sans, sans-serif" font-size="19.3" fill="#131722">
<text x="1512.5" y="123.0" textLength="57" lengthAdjust="spacingAndGlyphs">280.00</text>
<text x="1512.5" y="211.1" textLength="57" lengthAdjust="spacingAndGlyphs">270.00</text>
<text x="1512.5" y="299.2" textLength="57" lengthAdjust="spacingAndGlyphs">260.00</text>
<text x="1512.5" y="387.3" textLength="57" lengthAdjust="spacingAndGlyphs">250.00</text>
<text x="1512.5" y="475.4" textLength="57" lengthAdjust="spacingAndGlyphs">240.00</text>
<text x="1512.5" y="563.5" textLength="57" lengthAdjust="spacingAndGlyphs">230.00</text>
<text x="1512.5" y="651.6" textLength="57" lengthAdjust="spacingAndGlyphs">220.00</text>
<text x="1512.5" y="739.7" textLength="57" lengthAdjust="spacingAndGlyphs">210.00</text>
<text x="1512.5" y="827.8" textLength="57" lengthAdjust="spacingAndGlyphs">200.00</text>
<text x="1512.5" y="915.9" textLength="57" lengthAdjust="spacingAndGlyphs">190.00</text>
</g>
<rect x="1500" y="418.5" width="76.5" height="25" fill="#fff" stroke="#2962ff" stroke-width="1.5" rx="1"/>
<text x="1512.5" y="438.5" font-family="Liberation Sans, sans-serif" font-size="19.3" fill="#2962ff" textLength="57" lengthAdjust="spacingAndGlyphs">244.22</text>
<rect x="1500" y="660.5" width="76.5" height="25" fill="#fff" stroke="#f23645" stroke-width="1.5" rx="1"/>
<text x="1512.5" y="680.5" font-family="Liberation Sans, sans-serif" font-size="19.3" fill="#f23645" textLength="57" lengthAdjust="spacingAndGlyphs">216.87</text>
<g font-family="Liberation Sans, sans-serif" font-size="19.3" fill="#131722">
<text x="180.1" y="1008.2" textLength="31.6" lengthAdjust="spacingAndGlyphs">Sep</text>
<text x="354.2" y="1008.2" textLength="31.6" lengthAdjust="spacingAndGlyphs">Oct</text>
<text x="554.2" y="1008.2" textLength="32.7" lengthAdjust="spacingAndGlyphs">Nov</text>
<text x="728.5" y="1008.2" textLength="32.1" lengthAdjust="spacingAndGlyphs">Dec</text>
<text x="1086.0" y="1008.2" textLength="32.1" lengthAdjust="spacingAndGlyphs">Feb</text>
<text x="1250.7" y="1008.2" textLength="32.7" lengthAdjust="spacingAndGlyphs">Mar</text>
<text x="1434.2" y="1008.2" textLength="31.2" lengthAdjust="spacingAndGlyphs">Apr</text>
<text x="905.5" y="1008.2" font-weight="bold" textLength="44" lengthAdjust="spacingAndGlyphs">2025</text>
</g>
<circle cx="397.5" cy="959.5" r="15" fill="#fff" stroke="#2962ff" stroke-width="2.6"/><text x="392.3" y="966.7" fill="#2962ff" stroke="#2962ff" stroke-width="0.5" font-size="19" textLength="10.6" lengthAdjust="spacingAndGlyphs" font-family="Liberation Sans, sans-serif">D</text><path d="M440.5,943.5 L454.5,951.2 L454.5,973.7 L426.5,973.7 L426.5,951.2 Z" fill="#fff" stroke="#089981" stroke-width="2.8" stroke-linejoin="round"/><text x="435.9" y="966.7" fill="#089981" stroke="#089981" stroke-width="0.5" font-size="19" textLength="9.6" lengthAdjust="spacingAndGlyphs" font-family="Liberation Sans, sans-serif">E</text><circle cx="946.5" cy="959.5" r="15" fill="#fff" stroke="#2962ff" stroke-width="2.6"/><text x="941.3" y="966.7" fill="#2962ff" stroke="#2962ff" stroke-width="0.5" font-size="19" textLength="10.6" lengthAdjust="spacingAndGlyphs" font-family="Liberation Sans, sans-serif">D</text><path d="M997.5,943.5 L1011.5,951.2 L1011.5,973.7 L983.5,973.7 L983.5,951.2 Z" fill="#fff" stroke="#089981" stroke-width="2.8" stroke-linejoin="round"/><text x="992.9" y="966.7" fill="#089981" stroke="#089981" stroke-width="0.5" font-size="19" textLength="9.6" lengthAdjust="spacingAndGlyphs" font-family="Liberation Sans, sans-serif">E</text><circle cx="1477.5" cy="959.5" r="15" fill="#fff" stroke="#2962ff" stroke-width="2.6"/><text x="1472.3" y="966.7" fill="#2962ff" stroke="#2962ff" stroke-width="0.5" font-size="19" textLength="10.6" lengthAdjust="spacingAndGlyphs" font-family="Liberation Sans, sans-serif">D</text>
<g stroke="#000" stroke-width="3" fill="none" stroke-linecap="butt">
<line x1="858" y1="670.5" x2="802.5" y2="586.5"/>
<path d="M801.6,595 L801.3,584.6 L811,588.6" stroke-linejoin="miter" stroke-linecap="round"/>
</g>
<g fill="#131722">
<path d="M19,1060 L38,1060 L38,1083 L28.5,1083 L28.5,1069 L19,1069 Z"/>
<circle cx="46.8" cy="1064.5" r="4.5"/>
<path d="M53,1060 L66.5,1060 L57.3,1083 L46.8,1083 Z"/>
</g>
</svg>
<div id="hdr"><div class="top"></div><div class="bot"></div></div>
<div id="title">Exponential Moving Average</div>
<div id="sym">JPM | 1D</div>
<div class="nl" style="top:660.8px;transform:scaleX(0.838)">Notice the rising line, the</div>
<div class="nl" style="top:709px;transform:scaleX(0.834)">50-day EMA. It shows an uptrend,</div>
<div class="nl" style="top:757.6px;transform:scaleX(0.8245)">and offeres support on the way up.</div>
<div id="tv">TradingView</div>
</body></html>
